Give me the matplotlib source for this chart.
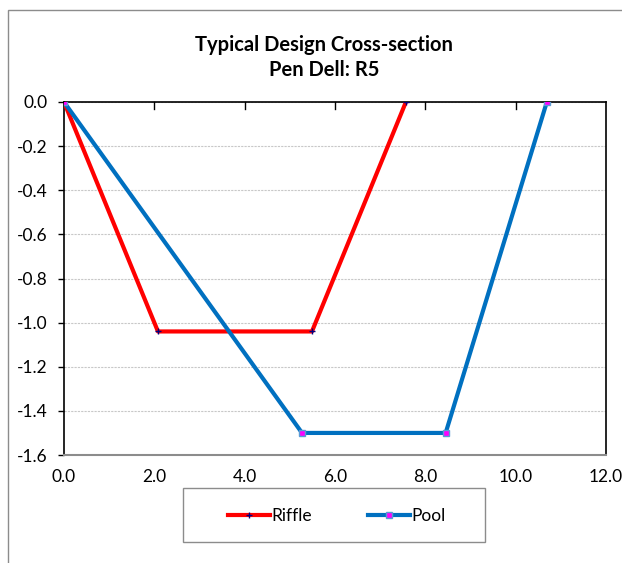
import matplotlib
matplotlib.use("Agg")
import matplotlib.pyplot as plt
from matplotlib.patches import Rectangle

# cross-section stations (x) and elevations (y)
riffle_x = [0.0, 2.08, 5.49, 7.57]
riffle_y = [0.0, -1.04, -1.04, 0.0]
pool_x = [0.0, 5.27, 8.45, 10.69]
pool_y = [0.0, -1.5, -1.5, 0.0]

x_ticks = [0, 2, 4, 6, 8, 10, 12]
y_ticks = [0.0, -0.2, -0.4, -0.6, -0.8, -1.0, -1.2, -1.4, -1.6]

plt.rcParams['font.family'] = ['Lato', 'DejaVu Sans']

fig = plt.figure(figsize=(6.22, 5.63), dpi=100)

# outer chart border (right side cut off in the original)
fig.patches.append(Rectangle((8 / 622, -0.01), 1.0, 1 - 10 / 563 + 0.01,
                             transform=fig.transFigure, fill=False,
                             edgecolor='#8c8c8c', linewidth=1.0))

ax = fig.add_axes([64 / 622, 1 - 455 / 563, 542 / 622, 353 / 563])

ax.plot(riffle_x, riffle_y, color='#ff0000', linewidth=3, marker='+',
        markersize=4, markeredgecolor='#000080', markeredgewidth=1,
        label='Riffle', zorder=3)
ax.plot(pool_x, pool_y, color='#0070c0', linewidth=3, marker='s',
        markersize=5, markerfacecolor='#ff00ff', markeredgecolor='#5b9bd5',
        markeredgewidth=1, label='Pool', zorder=4)

ax.set_xlim(0, 12)
ax.set_ylim(-1.6, 0)
ax.set_xticks(x_ticks)
ax.set_xticklabels(['{:.1f}'.format(v) for v in x_ticks], fontsize=12.5)
ax.set_yticks(y_ticks)
ax.set_yticklabels(['{:.1f}'.format(v) for v in y_ticks], fontsize=12.5)

ax.grid(axis='y', color='#c8c8c8', linestyle=(0, (2, 1)), linewidth=0.8)
ax.set_axisbelow(True)

for side in ['top', 'left', 'right']:
    ax.spines[side].set_color('black')
    ax.spines[side].set_linewidth(1.2)
ax.spines['bottom'].set_color('#8c8c8c')
ax.spines['bottom'].set_linewidth(1.5)

# x-axis ticks sit on the zero line (top), labels stay at bottom
ax.tick_params(axis='x', which='both', length=0, pad=10)
for xt in x_ticks[1:-1]:
    ax.plot([xt, xt], [0, -0.03], color='black', linewidth=1, zorder=2,
            clip_on=False)
ax.tick_params(axis='y', direction='out', length=4, width=1, pad=8)

fig.text(324 / 622, 1 - 45 / 563, 'Typical Design Cross-section',
         ha='center', va='center', fontsize=14.5, fontweight='bold')
fig.text(324 / 622, 1 - 70 / 563, 'Pen Dell: R5',
         ha='center', va='center', fontsize=14.5, fontweight='bold')

# legend frame drawn separately so it can be wider than the entries
fig.patches.append(Rectangle((183 / 622, 1 - 542 / 563), 302 / 622, 54 / 563,
                             transform=fig.transFigure, fill=False,
                             edgecolor='#8c8c8c', linewidth=1.0))
leg = fig.legend(loc='center', bbox_to_anchor=(337 / 622, 1 - 516 / 563),
                 ncol=2, frameon=False, fontsize=12.5,
                 handlelength=2.4, columnspacing=3.2, borderpad=0.5,
                 handletextpad=0.1)

fig.savefig('out.png', dpi=100)
